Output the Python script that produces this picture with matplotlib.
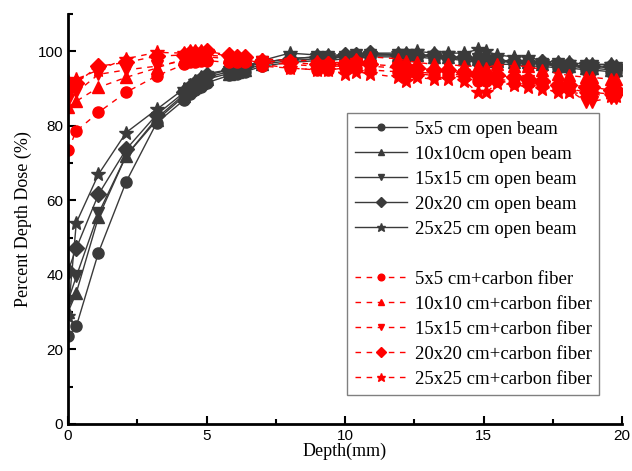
import matplotlib
matplotlib.use('Agg')
import matplotlib.pyplot as plt
from matplotlib.lines import Line2D
from matplotlib.ticker import MultipleLocator
import numpy as np

depth = [0, 0.3, 1.1, 2.1, 3.2, 4.2, 4.4, 4.6, 4.8, 5.0, 5.8, 6.1, 6.4, 7.0,
         8.0, 9.0, 9.4, 10.0, 10.4, 10.9, 11.9, 12.2, 12.6, 13.2, 13.7, 14.3,
         14.8, 15.1, 15.5, 16.1, 16.6, 17.1, 17.7, 18.1, 18.7, 18.9, 19.6, 19.8]

open_labels = ['5x5 cm open beam', '10x10cm open beam', '15x15 cm open beam',
               '20x20 cm open beam', '25x25 cm open beam']
fiber_labels = ['5x5 cm+carbon fiber', '10x10 cm+carbon fiber', '15x15 cm+carbon fiber',
                '20x20 cm+carbon fiber', '25x25 cm+carbon fiber']
markers = ['o', '^', 'v', 'D', '*']

open_5 = [23.5, 26.2, 46, 65, 80.8, 87, 88.5, 89.5, 90.5, 91.5, 93.5, 94, 94.5, 96,
          97, 97.5, 97.5, 98, 98, 98.5, 98.5, 98.5, 98.5, 98, 98, 97.5, 97, 97, 96.5,
          96.5, 96, 96, 95.5, 95.5, 95, 95, 94.5, 94.5]
open_10 = [30, 35.2, 55.5, 72, 81.5, 88, 89.5, 90.5, 91.5, 92.5, 94, 94.5, 95, 96.5,
           97.5, 98, 98, 98.5, 98.5, 99, 99, 99, 99, 98.5, 98.5, 98, 98, 97.5, 97.5,
           97, 97, 96.5, 96, 96, 95.5, 95.5, 95, 95]
open_15 = [33, 39.6, 56.5, 72, 82, 88.5, 90, 91, 92, 93, 94.5, 95, 95.5, 97,
           98, 98.5, 98.5, 98.5, 99, 99, 99, 99, 99, 98.5, 98.5, 98, 98, 97.5, 97.5,
           97, 97, 96.5, 96.5, 96, 96, 96, 95.5, 95.5]
open_20 = [41, 47.2, 61.6, 73.7, 83, 89, 90.5, 91.5, 92.5, 93.5, 95, 95.5, 96, 97,
           98, 98.5, 98.5, 99, 99, 99.5, 99, 99, 99, 99, 98.5, 98.5, 98, 98, 97.5,
           97.5, 97, 97, 96.5, 96.5, 96, 96, 96, 95.5]
open_25 = [29, 54, 67, 78.2, 84.4, 90, 91, 92, 93, 94, 95, 95.5, 96, 97.5,
           99.5, 99, 99, 99, 99, 99.5, 99.5, 99.5, 100, 99.5, 99.5, 99.5, 100.5, 100, 99,
           98.5, 98.5, 97.5, 97, 97, 96.5, 96.5, 96.5, 96]

fiber_5 = [73.5, 78.6, 83.6, 89, 93.4, 96.5, 97, 97, 97.5, 97.5, 97, 97, 97, 96,
           95.5, 95, 95, 95.5, 95.5, 95, 94.5, 94, 94, 93.5, 93.5, 93, 92, 92, 92,
           91.5, 91.5, 91, 90, 90, 89, 89, 88.5, 88.5]
fiber_10 = [85, 86.6, 90.3, 93, 95.5, 98, 98.5, 99, 99, 99, 98.5, 98.5, 98, 98,
            97.5, 97.5, 97, 97, 98, 98.5, 98, 97.5, 97, 96.5, 96.5, 96, 96, 95.5, 96.5,
            96, 96, 95, 94, 93.5, 93, 93, 92.5, 92.5]
fiber_15 = [87, 89, 93.8, 95, 96, 97.5, 98, 98, 98.5, 98.5, 98, 98, 97.5, 97,
            96.5, 96, 96, 96, 96.5, 96, 95.5, 95, 94.5, 94, 94, 93.5, 93, 93, 92.5,
            92, 92, 91, 90, 89.5, 86.5, 86.5, 87.5, 87.5]
fiber_20 = [90, 91.5, 96, 97, 98.7, 99, 99.5, 99.5, 99.5, 100, 99, 98.5, 98.5, 97.5,
            97, 96.5, 96.5, 96.5, 97, 96.5, 96, 95.5, 95.5, 95, 95, 94.5, 93.5, 93.5, 93.5,
            93, 92.5, 92, 91, 91, 90.5, 90.5, 89.5, 89.5]
fiber_25 = [92, 92.5, 95, 98, 99.7, 99.5, 100, 100, 100, 100, 98.5, 98, 98, 96.5,
            95.5, 95, 95, 94, 94.5, 94, 93, 92, 93, 92.5, 92.5, 92, 89, 89, 91.5,
            91, 90.5, 90, 89, 89, 88.5, 88.5, 88, 88]

open_series = [open_5, open_10, open_15, open_20, open_25]
fiber_series = [fiber_5, fiber_10, fiber_15, fiber_20, fiber_25]

plt.rcParams['font.family'] = 'Liberation Sans'
fig = plt.figure(figsize=(6.32, 4.71), dpi=100)
ax = fig.add_axes([0.1076, 0.0998, 0.8766, 0.8705])

gray = '#3a3a3a'
red = '#ff0000'
handles = []
for vals, m, lab in zip(open_series, markers, open_labels):
        ms = 10.5 if m == '*' else 8
        h, = ax.plot(depth, vals, color=gray, marker=m, markersize=ms, linewidth=1.0,
                     label=lab)
        handles.append(h)
handles.append(Line2D([], [], linestyle='none', marker='none', label=' '))
for vals, m, lab in zip(fiber_series, markers, fiber_labels):
        ms = 10.5 if m == '*' else 8
        h, = ax.plot(depth, vals, color=red, marker=m, markersize=ms, linewidth=1.0,
                     linestyle=(0, (4, 4)), label=lab)
        handles.append(h)

ax.set_xlim(0, 20)
ax.set_ylim(0, 110)
ax.xaxis.set_major_locator(MultipleLocator(5))
ax.xaxis.set_minor_locator(MultipleLocator(2.5))
ax.yaxis.set_major_locator(MultipleLocator(20))
ax.yaxis.set_minor_locator(MultipleLocator(10))
ax.tick_params(which='both', direction='in', labelsize=11, width=1.5)
ax.tick_params(which='major', length=6)
ax.tick_params(which='minor', length=3.5)
ax.spines['top'].set_visible(False)
ax.spines['right'].set_visible(False)
ax.spines['left'].set_linewidth(2)
ax.spines['bottom'].set_linewidth(2)

ax.set_xlabel('Depth(mm)', family='Liberation Serif', fontsize=13, labelpad=0)
ax.set_ylabel('Percent Depth Dose (%)', family='Liberation Serif', fontsize=13, labelpad=4)

leg = ax.legend(handles=handles, loc='lower left', bbox_to_anchor=(0.504, 0.07),
                prop={'family': 'Liberation Serif', 'size': 13.5}, fancybox=False,
                framealpha=1, edgecolor='#808080', handlelength=2.8, handletextpad=0.4,
                labelspacing=0.42, borderaxespad=0, markerscale=0.6)
leg.get_frame().set_linewidth(1.0)

fig.savefig('out.png', dpi=100)
